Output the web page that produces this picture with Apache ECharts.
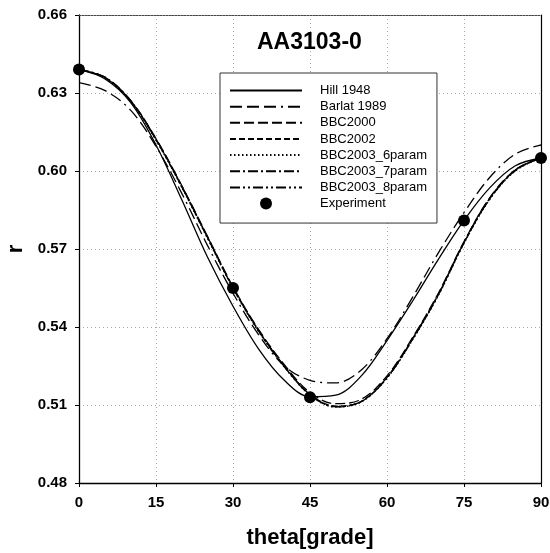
<!DOCTYPE html>
<html><head><meta charset="utf-8">
<script src="https://cdn.jsdelivr.net/npm/echarts@6/dist/echarts.min.js"></script>
<style>html,body{margin:0;padding:0;background:#fff;}#c{width:550px;height:553px;}</style>
</head><body><div id="c"></div>
<script>
const theta = [0,5,10,15,20,25,30,35,40,45,50,55,60,65,70,75,80,85,90];
const hill1948 = [0.639,0.6355,0.6265,0.610,0.589,0.567,0.548,0.5315,0.5195,0.5132,0.5138,0.5212,0.5348,0.5500,0.5660,0.5810,0.5935,0.6020,0.6050];
const barlat1989 = [0.634,0.631,0.6235,0.6095,0.5915,0.5715,0.553,0.537,0.525,0.5195,0.5185,0.5235,0.5355,0.5515,0.5685,0.5840,0.5975,0.6065,0.6100];
const bbc2000 = [0.639,0.636,0.6272,0.6125,0.5945,0.575,0.5555,0.5390,0.5255,0.5148,0.5105,0.5122,0.5212,0.5360,0.5530,0.5728,0.5897,0.6005,0.6052];
const bbc2002 = [0.639,0.636,0.627,0.612,0.594,0.5745,0.555,0.5385,0.525,0.5142,0.5096,0.5114,0.5206,0.5355,0.5525,0.5724,0.5893,0.6003,0.605];
const bbc2003_6 = [0.639,0.6358,0.6268,0.6118,0.5938,0.5742,0.5548,0.5382,0.5246,0.5138,0.5092,0.5112,0.5203,0.5351,0.5521,0.5721,0.589,0.6,0.605];
const bbc2003_7 = [0.639,0.6362,0.6273,0.6123,0.5943,0.5748,0.5553,0.5387,0.5249,0.5140,0.5094,0.5114,0.5206,0.5356,0.5526,0.5727,0.5895,0.6004,0.6051];
const bbc2003_8 = [0.639,0.6361,0.6271,0.6121,0.5941,0.5746,0.5551,0.5384,0.5247,0.5139,0.5093,0.5113,0.5204,0.5353,0.5523,0.5724,0.5892,0.6002,0.605];
const expTheta = [0,30,45,75,90];
const expR = [0.639,0.555,0.513,0.581,0.605];
const xTicks = [0,15,30,45,60,75,90];
const yTicks = [0.48,0.51,0.54,0.57,0.60,0.63,0.66];

const FONT = "'Liberation Sans', Arial, sans-serif";
function pairs(xs, ys){ return xs.map((x,i)=>[x, ys[i]]); }
function lineSeries(name, ys, dash){
  return {name, type:'line', data:pairs(theta, ys), smooth:0.35, symbol:'none', showSymbol:false,
    xAxisIndex:0, yAxisIndex:0, itemStyle:{color:'#000'},
    lineStyle:{color:'#000', width:1.3, type:dash}, z:3};
}
const lineNames = ['Hill 1948','Barlat 1989','BBC2000','BBC2002','BBC2003_6param','BBC2003_7param','BBC2003_8param'];
const chart = echarts.init(document.getElementById('c'), null, {renderer:'canvas'});
chart.setOption({
  backgroundColor:'#fff',
  animation:false,
  title:{text:'AA3103-0', left:252, top:26,
    textStyle:{fontFamily:FONT, fontSize:23, fontWeight:'bold', color:'#000'}},
  grid:{left:79, right:9, top:15, bottom:70, outerBoundsMode:'none', containLabel:false},
  legend:{left:220, top:73, orient:'vertical',
    backgroundColor:'#fff', borderColor:'#333', borderWidth:1,
    padding:[11,10,13,9], itemWidth:72, itemHeight:12, itemGap:3.15,
    textStyle:{fontFamily:FONT, fontSize:13, color:'#000', padding:[0,0,0,13]},
    data:lineNames.map(n=>({name:n, itemStyle:{opacity:0}})).concat([{name:'Experiment', itemStyle:{color:'#000', opacity:1}}])},
  xAxis:[{type:'value', min:0, max:90, interval:15, position:'bottom',
      name:'theta[grade]', nameLocation:'middle', nameGap:44,
      nameTextStyle:{fontFamily:FONT, fontSize:22, fontWeight:'bold', color:'#000'},
      axisLine:{show:true, onZero:false, lineStyle:{color:'#000', width:1.3}},
      axisTick:{show:true, inside:false, length:4, lineStyle:{color:'#000'}},
      axisLabel:{fontFamily:FONT, fontSize:15, fontWeight:'bold', color:'#000', margin:12},
      splitLine:{show:true, lineStyle:{color:'#aaa', type:[1,3], width:1}}},
    {type:'value', min:0, max:90, interval:15, position:'top',
      axisLine:{show:true, onZero:false, lineStyle:{color:'#444', type:[2,1], width:1}},
      axisTick:{show:false}, axisLabel:{show:false}, splitLine:{show:false}}],
  yAxis:[{type:'value', min:0.48, max:0.66, interval:0.03, position:'left',
      name:'r', nameLocation:'middle', nameGap:52, nameRotate:90,
      nameTextStyle:{fontFamily:FONT, fontSize:22, fontWeight:'bold', color:'#000'},
      axisLine:{show:true, onZero:false, lineStyle:{color:'#000', width:1.3}},
      axisTick:{show:true, inside:false, length:4, lineStyle:{color:'#000'}},
      axisLabel:{fontFamily:FONT, fontSize:15, fontWeight:'bold', color:'#000', margin:12,
        formatter:v=>v.toFixed(2)},
      splitLine:{show:true, lineStyle:{color:'#aaa', type:[1,3], width:1}}},
    {type:'value', min:0.48, max:0.66, interval:0.03, position:'right',
      axisLine:{show:true, onZero:false, lineStyle:{color:'#000', width:1.2}},
      axisTick:{show:false}, axisLabel:{show:false}, splitLine:{show:false}}],
  series:[
    lineSeries('Hill 1948', hill1948, 'solid'),
    lineSeries('Barlat 1989', barlat1989, [12,5,12,5,12,5,2,5]),
    lineSeries('BBC2000', bbc2000, [10,4]),
    lineSeries('BBC2002', bbc2002, [6,3]),
    lineSeries('BBC2003_6param', bbc2003_6, [1.5,2.5]),
    lineSeries('BBC2003_7param', bbc2003_7, [10,3,2,3]),
    lineSeries('BBC2003_8param', bbc2003_8, [10,3,2,3,2,3]),
    {name:'Experiment', type:'scatter', data:pairs(expTheta, expR), symbol:'circle', symbolSize:12,
      itemStyle:{color:'#000', opacity:1}, clip:false, z:5}
  ]
});
</script></body></html>
